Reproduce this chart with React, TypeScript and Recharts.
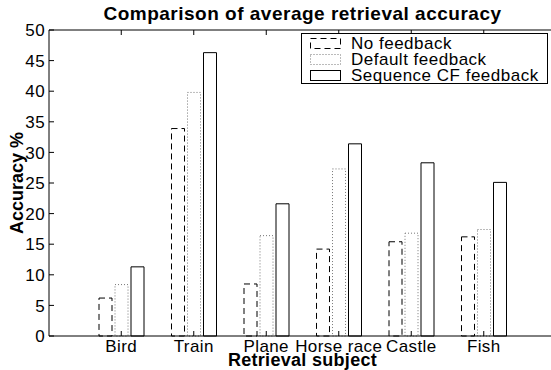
import { BarChart, Bar, XAxis, YAxis, Legend } from 'recharts';

const subjects = ['Bird', 'Train', 'Plane', 'Horse race', 'Castle', 'Fish'];
const noFeedback = [6.2, 33.9, 8.5, 14.2, 15.4, 16.2];
const defaultFeedback = [8.4, 39.8, 16.4, 27.3, 16.8, 17.4];
const sequenceFeedback = [11.3, 46.3, 21.6, 31.4, 28.3, 25.1];
const yTicks = [0, 5, 10, 15, 20, 25, 30, 35, 40, 45, 50];

const title = 'Comparison of average retrieval accuracy';
const xTitle = 'Retrieval subject';
const yTitle = 'Accuracy %';

const data = subjects.map((s, i) => ({
  subject: s,
  none: noFeedback[i],
  def: defaultFeedback[i],
  seq: sequenceFeedback[i],
}));

const FONT = '"Liberation Sans", Arial, Helvetica, sans-serif';
const LEFT = 49;
const TOP = 30;
const BOTTOM = 336;
const RIGHT = 556;
const TICK = 5;

const series = [
  { key: 'none', name: 'No feedback', stroke: '#000', dash: '6 4' },
  { key: 'def', name: 'Default feedback', stroke: '#777', dash: '1 2' },
  { key: 'seq', name: 'Sequence CF feedback', stroke: '#000', dash: undefined },
];

const LegendBox = () => (
  <div
    style={{
      border: '1px solid #000',
      background: '#fff',
      width: 247,
      height: 51,
      padding: '2px 0 0 8px',
      boxSizing: 'border-box',
      fontFamily: FONT,
      fontSize: 17,
      letterSpacing: 0.5,
      color: '#000',
    }}
  >
    {series.map((s) => (
      <div key={s.key} style={{ display: 'flex', alignItems: 'center', height: 16 }}>
        <svg width={32} height={12} style={{ marginRight: 9 }}>
          <rect x={0.5} y={0.5} width={30} height={10} fill="#fff" stroke={s.stroke} strokeDasharray={s.dash} />
        </svg>
        <span style={{ lineHeight: '16px' }}>{s.name}</span>
      </div>
    ))}
  </div>
);

export default function App() {
  return (
    <div style={{ position: 'absolute', left: 0, top: 0, background: '#fff' }}>
      <BarChart
        width={600}
        height={370}
        data={data}
        margin={{ top: 0, right: 0, bottom: 0, left: 0 }}
        barGap={3}
        barSize={13}
      >
        <XAxis
          dataKey="subject"
          height={34}
          padding={{ left: 36, right: 36 }}
          axisLine={{ stroke: '#000' }}
          tickLine={false}
          interval={0}
          tick={(p: any) => (
            <g>
              <line x1={p.x} x2={p.x} y1={BOTTOM} y2={BOTTOM - TICK} stroke="#000" />
              <text x={p.x} y={352} textAnchor="middle" fontFamily={FONT} fontSize={17} letterSpacing={0.4} fill="#000">
                {p.payload.value}
              </text>
            </g>
          )}
          label={{
            content: (props: any) => (
              <text
                x={props.viewBox.x + props.viewBox.width / 2}
                y={366}
                textAnchor="middle"
                fontFamily={FONT}
                fontSize={18}
                fontWeight="bold"
                letterSpacing={0.3}
                fill="#000"
              >
                {xTitle}
              </text>
            ),
          }}
        />
        <XAxis
          xAxisId="top"
          orientation="top"
          dataKey="subject"
          height={TOP}
          padding={{ left: 36, right: 36 }}
          axisLine={{ stroke: '#000' }}
          tickLine={false}
          interval={0}
          tick={(p: any) => <line x1={p.x} x2={p.x} y1={TOP} y2={TOP + TICK} stroke="#000" />}
          label={{
            content: (props: any) => (
              <text
                x={props.viewBox.x + props.viewBox.width / 2}
                y={20}
                textAnchor="middle"
                fontFamily={FONT}
                fontSize={19}
                fontWeight="bold"
                letterSpacing={0.5}
                fill="#000"
              >
                {title}
              </text>
            ),
          }}
        />
        <YAxis
          width={LEFT}
          domain={[0, 50]}
          ticks={yTicks}
          interval={0}
          axisLine={{ stroke: '#000' }}
          tickLine={false}
          tick={(p: any) => (
            <g>
              <line x1={LEFT} x2={LEFT + TICK} y1={p.y} y2={p.y} stroke="#000" />
              <text x={45} y={p.y} dy="0.36em" textAnchor="end" fontFamily={FONT} fontSize={17} letterSpacing={0.4} fill="#000">
                {p.payload.value}
              </text>
            </g>
          )}
          label={{
            content: () => (
              <text
                x={17}
                y={(TOP + BOTTOM) / 2}
                transform={`rotate(-90, 17, ${(TOP + BOTTOM) / 2})`}
                textAnchor="middle"
                dominantBaseline="central"
                fontFamily={FONT}
                fontSize={18}
                fontWeight="bold"
                fill="#000"
              >
                {yTitle}
              </text>
            ),
          }}
        />
        <YAxis
          yAxisId="right"
          orientation="right"
          width={600 - RIGHT}
          domain={[0, 50]}
          ticks={yTicks}
          interval={0}
          axisLine={{ stroke: '#000' }}
          tickLine={false}
          tick={(p: any) => <line x1={RIGHT} x2={RIGHT - TICK} y1={p.y} y2={p.y} stroke="#000" />}
        />
        <Legend
          layout="vertical"
          align="center"
          verticalAlign="middle"
          wrapperStyle={{ left: 301, top: 33 }}
          content={() => <LegendBox />}
        />
        {series.map((s) => (
          <Bar
            key={s.key}
            dataKey={s.key}
            name={s.name}
            fill="#fff"
            stroke={s.stroke}
            strokeDasharray={s.dash}
            isAnimationActive={false}
          />
        ))}
      </BarChart>
    </div>
  );
}
